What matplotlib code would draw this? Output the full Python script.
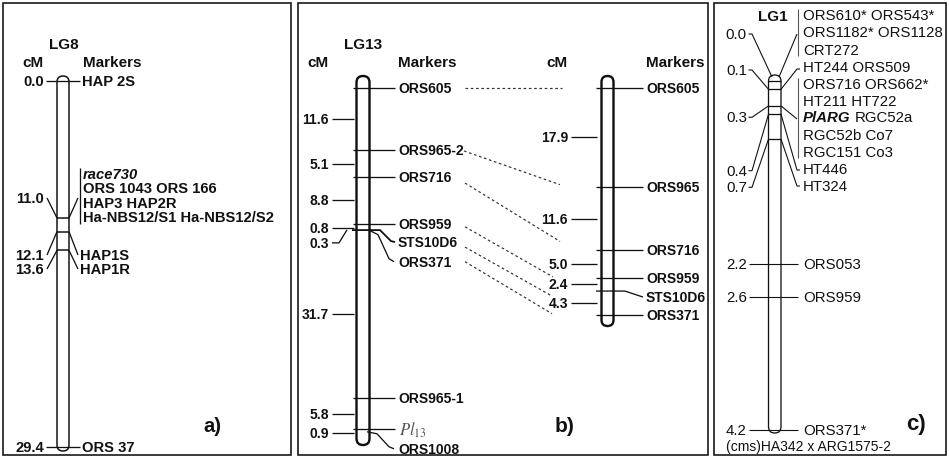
import matplotlib
matplotlib.use("Agg")
import matplotlib.pyplot as plt
from matplotlib.patches import FancyBboxPatch, Rectangle

plt.rcParams['font.family'] = ['Liberation Sans', 'DejaVu Sans']

# %% data
# a) LG8 : positions (cM) and markers at each position
lg8_pos = [0.0, 11.0, 12.1, 13.6, 29.4]
lg8_markers = [['HAP 2S'],
               ['race730', 'ORS 1043 ORS 166', 'HAP3 HAP2R', 'Ha-NBS12/S1 Ha-NBS12/S2'],
               ['HAP1S'], ['HAP1R'], ['ORS 37']]

# b) LG13 : left map (markers + intervals in cM), right map
lg13_markers = ['ORS605', 'ORS965-2', 'ORS716', 'ORS959', 'STS10D6', 'ORS371',
                'ORS965-1', 'Pl13', 'ORS1008']
lg13_dist = [11.6, 5.1, 8.8, 0.8, 0.3, 31.7, 5.8, 0.9]
lg13r_markers = ['ORS605', 'ORS965', 'ORS716', 'ORS959', 'STS10D6', 'ORS371']
lg13r_dist = [17.9, 11.6, 5.0, 2.4, 4.3]
lg13_links = [('ORS605', 'ORS605'), ('ORS965-2', 'ORS965'), ('ORS716', 'ORS716'),
              ('ORS959', 'ORS959'), ('STS10D6', 'STS10D6'), ('ORS371', 'ORS371')]

# c) LG1
lg1_pos = [0.0, 0.1, 0.3, 0.4, 0.7, 2.2, 2.6, 4.2]
lg1_markers = [['ORS610* ORS543*', 'ORS1182* ORS1128', 'CRT272'],
               ['HT244 ORS509'],
               ['ORS716 ORS662*', 'HT211 HT722', 'PlARG RGC52a', 'RGC52b Co7', 'RGC151 Co3'],
               ['HT446'], ['HT324'], ['ORS053'], ['ORS959'], ['ORS371*']]

# %% figure in pixel coordinates
fig = plt.figure(figsize=(9.49, 4.6), dpi=100)
ax = fig.add_axes([0, 0, 1, 1])
ax.set_xlim(0, 949)
ax.set_ylim(460, 0)
ax.axis('off')

PX = 0.72  # 1 px in points
K = '#111111'


def line(xs, ys, lw=1.3, color=K, **kw):
    ax.plot(xs, ys, color=color, lw=lw * PX, solid_capstyle='butt', zorder=3, **kw)


def chrom(x0, w, ytop, ybot, lw):
    ax.add_patch(FancyBboxPatch((x0, ytop), w, ybot - ytop,
                                boxstyle=f"round,pad=0,rounding_size={w / 2}",
                                fc='white', ec=K, lw=lw * PX, zorder=2))


def txt(x, y, s, size, bold=True, ha='left', **kw):
    return ax.text(x, y, s, fontsize=size, fontweight='bold' if bold else 'normal',
                   ha=ha, va='center', color=K, zorder=4, **kw)


for x0, x1 in [(3, 291), (298, 708), (714, 946)]:
    ax.add_patch(Rectangle((x0, 4), x1 - x0, 452, fill=False, ec=K, lw=1.6 * PX, zorder=5))

# %% a) LG8
ay0, asc = 82, 12.45
ay = [ay0 + asc * p for p in lg8_pos]
chrom(57, 12, 77, 452, 1.5)
txt(64, 45, 'LG8', 11, ha='center')
txt(33, 63, 'cM', 11, ha='center')
txt(83, 63, 'Markers', 11)
fs_a = 10.6
for i in (1, 2, 3):
    line([57, 69], [ay[i]] * 2, lw=1.5)
# ends
for i in (0, 4):
    line([46, 80], [ay[i]] * 2)
    txt(44, ay[i], f'{lg8_pos[i]:.1f}', fs_a, ha='right')
    txt(82, ay[i], lg8_markers[i][0], fs_a)
# 11.0 group
lab_y = 199
txt(44, lab_y, f'{lg8_pos[1]:.1f}', fs_a, ha='right')
line([47, 57], [lab_y, ay[1]])
line([69, 78], [ay[1], lab_y])
grp = lg8_markers[1]
gy = [175 + 14.3 * k for k in range(len(grp))]
line([80, 80], [gy[0] - 6, gy[-1] + 7])
for k, s in enumerate(grp):
    txt(83, gy[k], s, fs_a, style='italic' if k == 0 else 'normal')
# 12.1 / 13.6
for i, ly in [(2, 256), (3, 270)]:
    txt(44, ly, f'{lg8_pos[i]:.1f}', fs_a, ha='right')
    line([47, 57], [ly, ay[i]])
    line([69, 78], [ay[i], ly])
    txt(80, ly, lg8_markers[i][0], fs_a)
txt(203, 427, 'a)', 14.5)

# %% b) LG13 left
by0, bsc = 89.3, 5.315
bpos = [0.0]
for d in lg13_dist:
    bpos.append(bpos[-1] + d)
by = [by0 + bsc * p for p in bpos]
chrom(356.5, 13, 77, 446, 2.4)
txt(363, 45, 'LG13', 11, ha='center')
txt(318, 63, 'cM', 11, ha='center')
txt(398, 63, 'Markers', 11)
fs_b = 10
left_text_y = {}
for i, name in enumerate(lg13_markers):
    y = by[i]
    if name == 'STS10D6':
        line([352, 380, 391, 395], [y + 2, y + 2, y + 13, y + 14], lw=1.8)
        ty = y + 14
    elif name == 'ORS371':
        line([370, 378, 389, 394], [y + 1, y + 5, y + 29, y + 32])
        ty = y + 32
    elif name == 'ORS1008':
        line([367, 377, 389, 394], [y - 2, y, y + 13, y + 15])
        ty = y + 15
    else:
        line([353, 395], [y, y])
        ty = y
    left_text_y[name] = ty
    if name == 'Pl13':
        ax.text(399, ty, r'$Pl_{13}$', fontsize=12, math_fontfamily='stix',
                ha='left', va='center', color='#555555', zorder=4)
    else:
        txt(398, ty, name, fs_b)
for j, d in enumerate(lg13_dist):
    my = (by[j] + by[j + 1]) / 2
    if j == 4:
        txt(329, my + 14, f'{d:.1f}', 10, ha='right')
        line([332, 339, 347], [my + 14, my + 14, my + 1])
        continue
    if j == 3:
        my += 2
    if j == 7:
        my += 2
    txt(329, my, f'{d:.1f}', 10, ha='right')
    line([332, 354], [my, my])

# %% b) LG13 right
ry0, rsc = 89.3, 5.495
rpos = [0.0]
for d in lg13r_dist:
    rpos.append(rpos[-1] + d)
ry = [ry0 + rsc * p for p in rpos]
chrom(601.5, 12, 77, 327, 2.4)
txt(557, 63, 'cM', 11, ha='center')
txt(646, 63, 'Markers', 11)
right_y = {}
for i, name in enumerate(lg13r_markers):
    y = ry[i]
    right_y[name] = y
    if name == 'STS10D6':
        line([596, 625, 643], [y, y, y + 6])
        txt(646, y + 6, name, fs_b)
    else:
        line([596, 643], [y, y])
        txt(646, y, name, fs_b)
for j, d in enumerate(lg13r_dist):
    my = (ry[j] + ry[j + 1]) / 2
    txt(568, my, f'{d:.1f}', 10, ha='right')
    line([571, 597], [my, my])

# dashed links
start_dy = [0, 1, 6, 3, 5, 0]
end_dy = [0, -2, -9, -1, 5, -1]
start_x = [465, 464, 465, 465, 465, 465]
end_x = [562, 560, 560, 553, 552, 552]
for k, (a, b) in enumerate(lg13_links):
    ax.plot([start_x[k], end_x[k]], [left_text_y[a] + start_dy[k], right_y[b] + end_dy[k]],
            color='#333333', lw=1.2 * PX, ls=(0, (2.2, 2.2)), zorder=3)
txt(555, 427, 'b)', 15)

# %% c) LG1
cy0, csc = 82, 83.0
cy = [cy0 + csc * p for p in lg1_pos]
chrom(768.5, 12.5, 76, 434, 1.3)
txt(773, 17, 'LG1', 11, ha='center')
fs_c = 10.8
for i in range(0, 5):
    line([768.5, 781], [cy[i]] * 2, lw=1.3)
lab_y = [35, 71, 118.3, 171.7, 188.3]
lab_end = [(772, 78), (768.5, cy[1]), (768.5, cy[2]), (768.5, cy[3]), (768.5, cy[4])]
for i in range(5):
    txt(747, lab_y[i], f'{lg1_pos[i]:.1f}', fs_c, bold=False, ha='right')
    ex, ey = lab_end[i]
    line([748.5, 752, ex], [lab_y[i], lab_y[i], ey], lw=1.1)
for i in range(5, 8):
    txt(747, cy[i], f'{lg1_pos[i]:.1f}', fs_c, bold=False, ha='right')
    line([749, 798], [cy[i]] * 2, lw=1.1)
    txt(803, cy[i], lg1_markers[i][0], fs_c, bold=False)

# right side groups
grp_y = [[16, 33.3, 50.7], [68.3], [85, 101.7, 118.3, 136, 152.7], [170], [186.7]]
grp_from = [(779, 78), (781, cy[1]), (781, cy[2]), (781, cy[3]), (781, cy[4])]
grp_to = [35, 70, 120, 171, 187]
renderer = fig.canvas.get_renderer()
for g in range(5):
    ys = grp_y[g]
    fx, fy = grp_from[g]
    if len(ys) > 1:
        line([798, 798], [ys[0] - 6, ys[-1] + 6], lw=1.1, color='#555555')
        line([fx, 797], [fy, grp_to[g]], lw=1.1)
    else:
        line([fx, 797, 800], [fy, grp_to[g], grp_to[g]], lw=1.1)
    for k, s in enumerate(lg1_markers[g]):
        if s.startswith('PlARG'):
            t = ax.text(803, ys[k], 'PlARG', fontsize=fs_c, fontweight='bold',
                        style='italic', ha='left', va='center', color=K, zorder=4)
            bb = t.get_window_extent(renderer)
            x_end = ax.transData.inverted().transform((bb.x1, bb.y0))[0]
            ax.text(x_end + 4, ys[k], s.split(' ', 1)[1], fontsize=fs_c, ha='left',
                    va='center', color=K, zorder=4)
        else:
            txt(803, ys[k], s, fs_c, bold=False)
txt(726, 447, '(cms)HA342 x ARG1575-2', 10, bold=False)
txt(906, 425, 'c)', 16)

fig.savefig('out.png', dpi=100)
